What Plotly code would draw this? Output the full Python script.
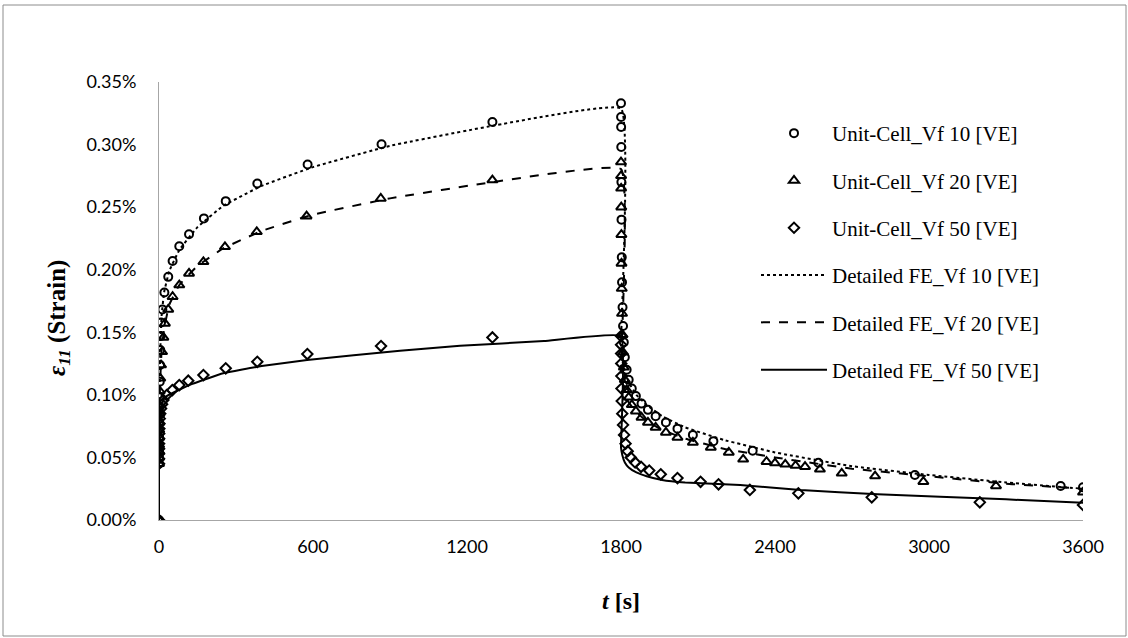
import plotly.graph_objects as go

# ---------------- data (strain in %) ----------------
uc10_t = [0, 0.05, 0.1, 0.2, 0.3, 0.5, 0.7, 1.0, 1.3, 1.6, 2.0, 3, 4, 5, 6.5, 8, 13, 21, 36, 53, 79, 117, 175, 260, 383, 579, 867, 1299,
          1800, 1800.3, 1800.6, 1801, 1801.5, 1802, 1803, 1804, 1806, 1808, 1811, 1815, 1822, 1830, 1842, 1858, 1880, 1905, 1935,
          1975, 2020, 2080, 2160, 2313, 2569, 2945, 3513, 3600]
uc10_v = [0, 0.045, 0.050, 0.055, 0.060, 0.066, 0.072, 0.078, 0.084, 0.090, 0.0985, 0.1105, 0.1238, 0.1358, 0.1470, 0.1579, 0.1683,
          0.1818, 0.1943, 0.2069, 0.2188, 0.2284, 0.2410, 0.2548, 0.2689, 0.2841, 0.3003, 0.3181,
          0.3330, 0.3220, 0.3140, 0.2980, 0.2700, 0.2400, 0.2100, 0.1900, 0.1700, 0.1550, 0.1420, 0.1300, 0.1200, 0.1120, 0.1050,
          0.0990, 0.0930, 0.0880, 0.0830, 0.0780, 0.0730, 0.0680, 0.0630, 0.0553, 0.0458, 0.0359, 0.0272, 0.0261]

uc20_t = [0, 0.05, 0.1, 0.2, 0.3, 0.5, 0.7, 1.0, 1.5, 2.0, 3, 5, 8, 12, 17, 23, 36, 53, 79, 117, 173, 257, 381, 575, 864, 1299,
          1800, 1800.3, 1800.6, 1801, 1801.5, 1802, 1803, 1804, 1806, 1808, 1811, 1815, 1822, 1830, 1842, 1858, 1880, 1905, 1935,
          1975, 2020, 2080, 2150, 2220, 2276, 2367, 2400, 2440, 2480, 2517, 2575, 2660, 2790, 2978, 3261, 3600]
uc20_v = [0, 0.045, 0.050, 0.055, 0.060, 0.066, 0.072, 0.078, 0.085, 0.092, 0.1030, 0.1132, 0.1238, 0.1344, 0.1459, 0.1571, 0.1683,
          0.1784, 0.1877, 0.1970, 0.2063, 0.2183, 0.2303, 0.2428, 0.2569, 0.2716,
          0.2860, 0.2750, 0.2650, 0.2500, 0.2280, 0.2050, 0.1850, 0.1650, 0.1480, 0.1340, 0.1220, 0.1120, 0.1040, 0.0980, 0.0920,
          0.0870, 0.0820, 0.0780, 0.0740, 0.0700, 0.0660, 0.0620, 0.0580, 0.0540, 0.0485, 0.0466, 0.0455, 0.0445, 0.0435, 0.0426,
          0.0405, 0.0373, 0.0351, 0.0306, 0.0272, 0.0221]

uc50_t = [0, 0.05, 0.1, 0.2, 0.3, 0.5, 0.7, 1.0, 1.5, 2.0, 3, 5, 8, 12, 17, 30, 52, 79, 114, 173, 260, 383, 578, 865, 1299,
          1800, 1800.3, 1800.6, 1801, 1801.5, 1802, 1803, 1805, 1808, 1812, 1818, 1826, 1838, 1855, 1878, 1910, 1955, 2020,
          2110, 2180, 2302, 2491, 2777, 3198, 3600]
uc50_v = [0, 0.045, 0.049, 0.053, 0.057, 0.061, 0.065, 0.069, 0.073, 0.077, 0.081, 0.085, 0.089, 0.0925, 0.0958, 0.0998, 0.1038,
          0.1078, 0.1113, 0.1158, 0.1212, 0.1264, 0.1326, 0.1390, 0.1459,
          0.1470, 0.1400, 0.1330, 0.1250, 0.1150, 0.1050, 0.0950, 0.0850, 0.0760, 0.0680, 0.0610, 0.0550, 0.0500, 0.0460, 0.0425,
          0.0395, 0.0365, 0.0335, 0.0305, 0.0285, 0.0240, 0.0213, 0.0181, 0.0141, 0.0120]

fe10_t = [0, 0, 2, 5, 10, 20, 40, 80, 150, 250, 400, 600, 900, 1300, 1800, 1800, 1805, 1815, 1830, 1860, 1900, 1960, 2050,
          2200, 2400, 2700, 3000, 3300, 3600]
fe10_v = [0, 0.045, 0.098, 0.135, 0.163, 0.182, 0.199, 0.216, 0.234, 0.251, 0.267, 0.282, 0.299, 0.315, 0.3288, 0.140, 0.128,
          0.118, 0.110, 0.100, 0.092, 0.083, 0.074, 0.064, 0.054, 0.043, 0.036, 0.030, 0.0250]

fe20_t = [0, 0, 2, 5, 10, 20, 40, 80, 150, 250, 400, 600, 900, 1300, 1800, 1800, 1805, 1815, 1830, 1860, 1900, 1960, 2050,
          2200, 2400, 2700, 3000, 3300, 3600]
fe20_v = [0, 0.045, 0.092, 0.113, 0.135, 0.153, 0.172, 0.188, 0.203, 0.217, 0.231, 0.244, 0.257, 0.270, 0.2804, 0.120, 0.110,
          0.101, 0.094, 0.086, 0.079, 0.072, 0.065, 0.057, 0.050, 0.041, 0.035, 0.029, 0.0250]

fe50_t = [0, 0, 2, 5, 10, 17, 30, 63, 120, 250, 400, 577, 939, 1173, 1500, 1800, 1800, 1805, 1815, 1830, 1860, 1900, 1960,
          2050, 2264, 2500, 2800, 3043, 3300, 3600]
fe50_v = [0, 0.045, 0.077, 0.085, 0.090, 0.096, 0.099, 0.1025, 0.108, 0.1172, 0.1230, 0.1278, 0.1352, 0.1392, 0.1430, 0.1470,
          0.058, 0.052, 0.046, 0.042, 0.038, 0.035, 0.032, 0.030, 0.028, 0.024, 0.0205, 0.0186, 0.0165, 0.0138]

x_ticks = [0, 600, 1200, 1800, 2400, 3000, 3600]
y_ticks = [0.0, 0.05, 0.10, 0.15, 0.20, 0.25, 0.30, 0.35]

# ---------------- figure ----------------
W, H = 1128, 638
L, R, T, B = 159, 45, 82, 118
pw, ph = W - L - R, H - T - B

def pct(v):
    return [x / 100.0 for x in v]

fig = go.Figure()
fig.add_trace(go.Scatter(x=uc10_t, y=pct(uc10_v), mode="markers", name="Unit-Cell_Vf 10 [VE]",
                         marker=dict(symbol="circle-open", size=8, color="black", line=dict(width=2)),
                         legendgroup="a"))
fig.add_trace(go.Scatter(x=uc20_t, y=pct(uc20_v), mode="markers", name="Unit-Cell_Vf 20 [VE]",
                         marker=dict(symbol="triangle-up-open", size=9, color="black", line=dict(width=2)),
                         legendgroup="b"))
fig.add_trace(go.Scatter(x=uc50_t, y=pct(uc50_v), mode="markers", name="Unit-Cell_Vf 50 [VE]",
                         marker=dict(symbol="diamond-open", size=8, color="black", line=dict(width=2)),
                         legendgroup="c"))
fig.add_trace(go.Scatter(x=fe10_t, y=pct(fe10_v), mode="lines", name="Detailed FE_Vf 10 [VE]",
                         line=dict(color="black", width=2, dash="dot", shape="spline", smoothing=0.3),
                         legendgroup="d"))
fig.add_trace(go.Scatter(x=fe20_t, y=pct(fe20_v), mode="lines", name="Detailed FE_Vf 20 [VE]",
                         line=dict(color="black", width=2, dash="dash", shape="spline", smoothing=0.3),
                         legendgroup="e"))
fig.add_trace(go.Scatter(x=fe50_t, y=pct(fe50_v), mode="lines", name="Detailed FE_Vf 50 [VE]",
                         line=dict(color="black", width=2, shape="spline", smoothing=0.3),
                         legendgroup="f"))

axis_col = "#a6a6a6"
fig.update_layout(
    width=W, height=H,
    margin=dict(l=L, r=R, t=T, b=B),
    paper_bgcolor="white", plot_bgcolor="white",
    showlegend=True,
    legend=dict(x=(756 - L) / pw, y=(520 - 113) / ph, xanchor="left", yanchor="top",
                font=dict(family="Liberation Serif", size=21, color="black"),
                bgcolor="rgba(0,0,0,0)", tracegroupgap=17, traceorder="grouped",
                itemwidth=66),
    xaxis=dict(range=[0, 3600], tickvals=x_ticks, ticktext=[str(v) for v in x_ticks],
               showgrid=False, zeroline=False, showline=True, linecolor=axis_col, linewidth=1,
               ticks="", ticklabelstandoff=10, tickfont=dict(family="Lato", size=18, color="black"),
               title=dict(text="<b><i>t</i> [s]</b>", font=dict(family="Liberation Serif", size=24, color="black"),
                          standoff=36)),
    yaxis=dict(range=[0, 0.0035], tickvals=pct(y_ticks), tickformat=".2%",
               showgrid=False, zeroline=False, showline=True, linecolor=axis_col, linewidth=1,
               ticks="", ticklabelstandoff=18, tickfont=dict(family="Lato", size=18, color="black")),
    annotations=[dict(text="<b><i>ε<sub>11</sub></i> (Strain)</b>", textangle=-90,
                      xref="paper", yref="paper", x=(58 - L) / pw, y=(520 - 318) / ph,
                      xanchor="center", yanchor="middle", showarrow=False,
                      font=dict(family="Liberation Serif", size=25, color="black"))],
    shapes=[dict(type="rect", xref="paper", yref="paper",
                 x0=(3 - L) / pw, x1=(1126 - L) / pw, y0=(520 - 636) / ph, y1=(520 - 5) / ph,
                 line=dict(color="#8c8c8c", width=1), fillcolor="rgba(0,0,0,0)", layer="below")],
)

fig.write_html("out.html")
